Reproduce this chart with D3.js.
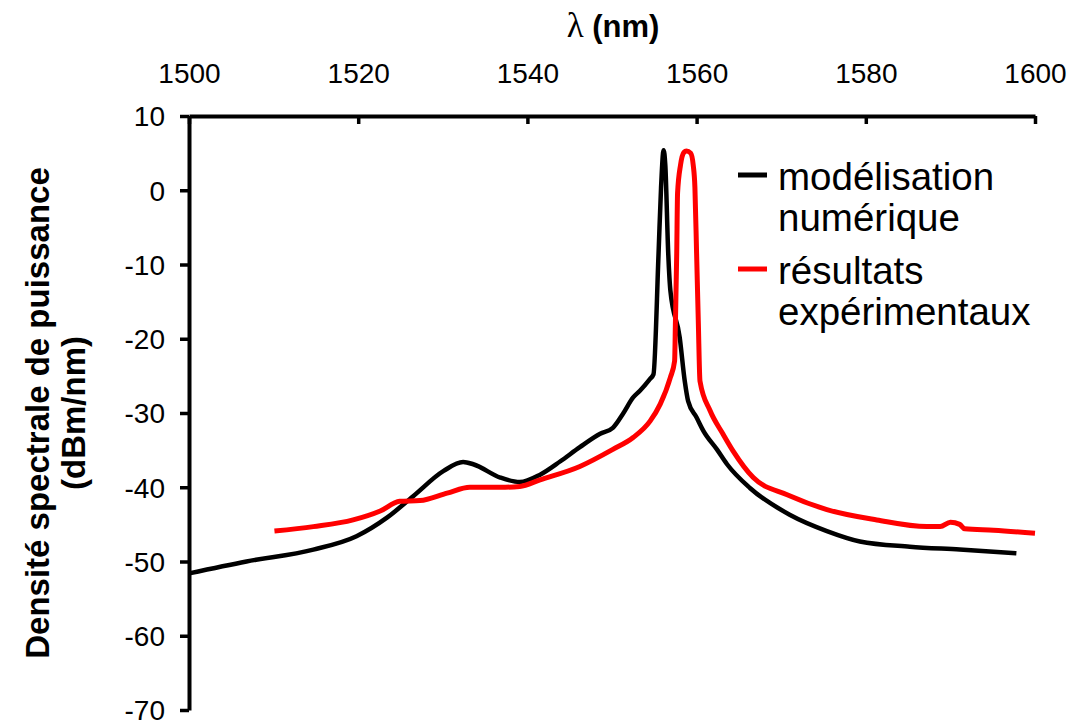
<!DOCTYPE html>
<html><head><meta charset="utf-8">
<script src="https://cdn.jsdelivr.net/npm/d3@7"></script>
<style>
html,body{margin:0;padding:0;background:#fff;}
svg text{font-family:"Liberation Sans",Arial,sans-serif;}
</style></head>
<body><svg id="c" width="1074" height="724"></svg>
<script>
const xTicks = [1500, 1520, 1540, 1560, 1580, 1600];
const yTicks = [10, 0, -10, -20, -30, -40, -50, -60, -70];
const seriesNames = ["modélisation numérique", "résultats expérimentaux"];

const simWl = [1500, 1506.8, 1514.7, 1519.8, 1523.4, 1526.5, 1530.1, 1532.4, 1533.6, 1536.8, 1539.1, 1541.5, 1543.9, 1546.2, 1548.6, 1550.1, 1551.3, 1552.5, 1553.3, 1554.5, 1554.9, 1555.5, 1555.8, 1556.1, 1556.3, 1556.65, 1556.9, 1558.0, 1558.6, 1559.0, 1560.0, 1560.8, 1562.4, 1563.6, 1566.3, 1571.0, 1575.4, 1579.3, 1585.2, 1591.1, 1597.8];
const simDb = [-51.6, -50.0, -48.4, -46.6, -44.1, -41.2, -37.8, -36.6, -36.9, -38.7, -39.3, -38.3, -36.5, -34.6, -32.8, -32.0, -30.1, -27.9, -27.0, -25.4, -24.8, -8.6, 0.4, 5.4, 3.4, -8.6, -13.5, -19.8, -25.7, -28.4, -30.6, -32.4, -34.9, -36.9, -40.1, -43.7, -45.9, -47.3, -48.0, -48.4, -48.9];

const expWl = [1510.1, 1514.7, 1519.4, 1522.6, 1524.9, 1527.3, 1530.5, 1533.2, 1536.8, 1539.1, 1541.5, 1546.2, 1550.1, 1552.5, 1554.5, 1555.7, 1556.9, 1557.4, 1557.5, 1557.65, 1557.75, 1558.1, 1558.5, 1558.8, 1559.3, 1559.6, 1559.8, 1560.0, 1560.2, 1560.4, 1561.6, 1563.1, 1564.3, 1566.7, 1570.7, 1575.4, 1581.3, 1587.2, 1588.8, 1590.0, 1591.1, 1591.7, 1595.1, 1600.0];
const expDb = [-45.9, -45.3, -44.4, -43.2, -41.9, -41.8, -40.8, -40.0, -40.0, -39.9, -39.0, -37.2, -34.9, -33.3, -31.1, -28.8, -25.2, -23.0, -17.6, -8.5, -0.4, 3.4, 5.1, 5.3, 5.0, 3.4, 0.4, -8.5, -17.6, -25.7, -29.7, -32.8, -35.1, -38.7, -41.0, -43.0, -44.4, -45.3, -45.3, -44.7, -45.0, -45.6, -45.8, -46.2];

const svg = d3.select("#c");
const x = d3.scaleLinear().domain([1500, 1600]).range([189, 1035]);
const y = d3.scaleLinear().domain([10, -70]).range([116, 710]);
const fmt = d => String(d);

// axes
const xAxis = svg.append("g").attr("transform", "translate(0,116)")
  .call(d3.axisTop(x).tickValues(xTicks).tickSizeInner(-8).tickSizeOuter(0).tickPadding(0).tickFormat(fmt));
xAxis.select(".domain").attr("stroke", "#000").style("stroke-width", "4px");
xAxis.selectAll(".tick line").attr("stroke", "#000").style("stroke-width", "3.5px");
xAxis.selectAll(".tick text").attr("y", -33).attr("dy", 0)
  .attr("font-size", 28).attr("fill", "#000").attr("font-family", "Liberation Sans, Arial, sans-serif");

const yAxis = svg.append("g").attr("transform", "translate(189,0)")
  .call(d3.axisLeft(y).tickValues(yTicks).tickSizeInner(9).tickSizeOuter(0).tickPadding(15).tickFormat(fmt));
yAxis.select(".domain").attr("stroke", "#000").style("stroke-width", "4px");
yAxis.selectAll(".tick line").attr("stroke", "#000").style("stroke-width", "3.5px");
yAxis.selectAll(".tick text").attr("font-size", 28).attr("fill", "#000").attr("dy", "0.35em")
  .attr("font-family", "Liberation Sans, Arial, sans-serif");

// lines
const line = d3.line().curve(d3.curveMonotoneX);
const simPts = simWl.map((w, i) => [x(w), y(simDb[i])]);
const expPts = expWl.map((w, i) => [x(w), y(expDb[i])]);
svg.append("path").attr("d", line(simPts)).attr("fill", "none").attr("stroke", "#000")
  .attr("stroke-width", 4.5).attr("stroke-linejoin", "round");
svg.append("path").attr("d", line(expPts)).attr("fill", "none").attr("stroke", "#ff0000")
  .attr("stroke-width", 5).attr("stroke-linejoin", "round");

// title
const t = svg.append("text").attr("x", 613).attr("y", 37).attr("text-anchor", "middle")
  .attr("font-size", 31).attr("font-weight", "bold");
t.append("tspan").attr("font-family", "Liberation Serif, Times New Roman, serif").attr("font-weight", "normal").attr("font-size", 35).text("λ");
t.append("tspan").text(" (nm)");

// y title
const yt = svg.append("text").attr("transform", "translate(0,413) rotate(-90)")
  .attr("text-anchor", "middle").attr("font-size", 33).attr("font-weight", "bold");
yt.append("tspan").attr("x", 0).attr("y", 49).text("Densité spectrale de puissance");
yt.append("tspan").attr("x", 0).attr("y", 85).text("(dBm/nm)");

// legend
const legend = [
  {color: "#000", lines: ["modélisation", "numérique"], ly: 175},
  {color: "#ff0000", lines: ["résultats", "expérimentaux"], ly: 269}
];
legend.forEach((d, i) => {
  const g = svg.append("g");
  g.append("line").attr("x1", 738).attr("x2", 767).attr("y1", d.ly).attr("y2", d.ly)
    .attr("stroke", d.color).attr("stroke-width", 5);
  const tx = g.append("text").attr("x", 778).attr("y", d.ly + 15).attr("font-size", 38.5).attr("fill", "#000");
  tx.append("tspan").attr("x", 778).text(d.lines[0]);
  tx.append("tspan").attr("x", 778).attr("dy", 41).text(d.lines[1]);
});
</script></body></html>
